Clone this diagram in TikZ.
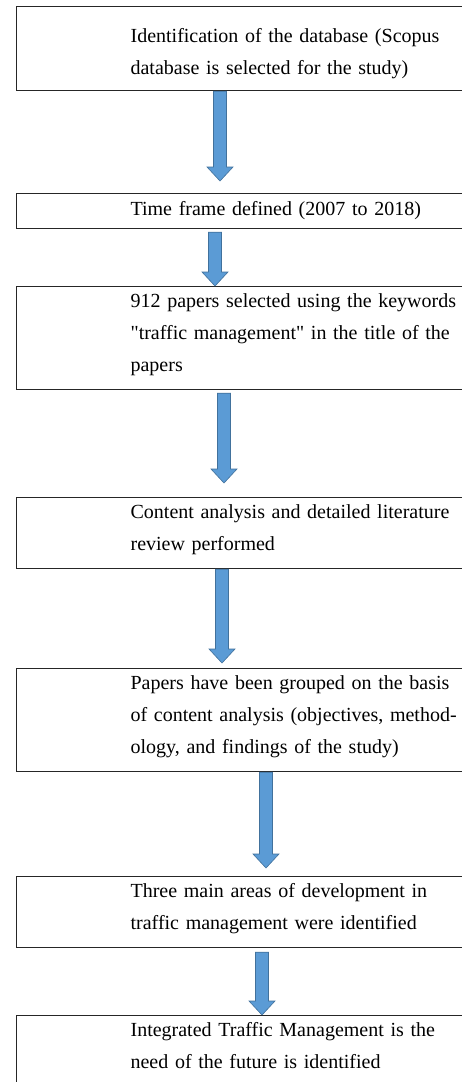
\documentclass[tikz,border=0pt]{standalone}
\usepackage{fontspec}
\setmainfont{Liberation Serif}[Ligatures=TeXOff]
\usetikzlibrary{calc}
\definecolor{arrowfill}{HTML}{5B9BD5}
\definecolor{arrowedge}{HTML}{41719C}

\begin{document}
\begin{tikzpicture}[x=1pt,y=-1pt,
    stepbox/.style={draw=black!85, line width=1.2pt, anchor=north west, inner ysep=0pt, inner xsep=114pt,
        text width=330pt, align=left, font=\fontsize{20}{32}\selectfont},
    blockarrow/.style={draw=arrowedge, fill=arrowfill, line width=0.6pt,
        to path={let \p1=(\tikztostart), \p2=(\tikztotarget) in
            (\x1-6.5pt,\y1) -- (\x1+6.5pt,\y1) -- (\x1+6.5pt,\y2+14pt) -- (\x1+13pt,\y2+14pt)
            -- (\x1,\y2) -- (\x1-13pt,\y2+14pt) -- (\x1-6.5pt,\y2+14pt) -- cycle}}]
    \fill[white] (0,0) rectangle (462,1082);
    \useasboundingbox (0,0) rectangle (462,1082);
    % boxes, top to bottom
    \node[stepbox, text height=36.5pt, text depth=48pt] (idbox) at (16,5.5)
        {Identification of the database (Scopus\\database is selected for the study)};
    \node[stepbox, text height=22pt, text depth=13pt] (timebox) at (16,193)
        {Time frame defined (2007 to 2018)};
    \node[stepbox, text height=21pt, text depth=82pt] (paperbox) at (16,286)
        {912 papers selected using the keywords\\"traffic management" in the title of the\\papers};
    \node[stepbox, text height=21pt, text depth=50pt] (contentbox) at (16,497)
        {Content analysis and detailed literature\\review performed};
    \node[stepbox, text height=21pt, text depth=82pt] (groupbox) at (16,668)
        {Papers have been grouped on the basis\\of content analysis (objectives, method-\\ology, and findings of the study)};
    \node[stepbox, text height=21pt, text depth=50pt] (areabox) at (16,876)
        {Three main areas of development in\\traffic management were identified};
    \node[stepbox, text height=21pt, text depth=64pt] (futurebox) at (16,1015)
        {Integrated Traffic Management is the\\need of the future is identified};
    % block arrows
    \draw[blockarrow] ([xshift=204pt]idbox.south west) to ([xshift=204pt,yshift=12pt]timebox.north west);
    \draw[blockarrow] ([xshift=199pt,yshift=-3pt]timebox.south west) to ([xshift=199pt]paperbox.north west);
    \draw[blockarrow] ([xshift=208pt,yshift=-3pt]paperbox.south west) to ([xshift=208pt,yshift=14pt]contentbox.north west);
    \draw[blockarrow] ([xshift=206pt]contentbox.south west) to ([xshift=206pt,yshift=5pt]groupbox.north west);
    \draw[blockarrow] ([xshift=250pt]groupbox.south west) to ([xshift=250pt,yshift=8pt]areabox.north west);
    \draw[blockarrow] ([xshift=246pt,yshift=-4pt]areabox.south west) to ([xshift=246pt]futurebox.north west);
\end{tikzpicture}
\end{document}
